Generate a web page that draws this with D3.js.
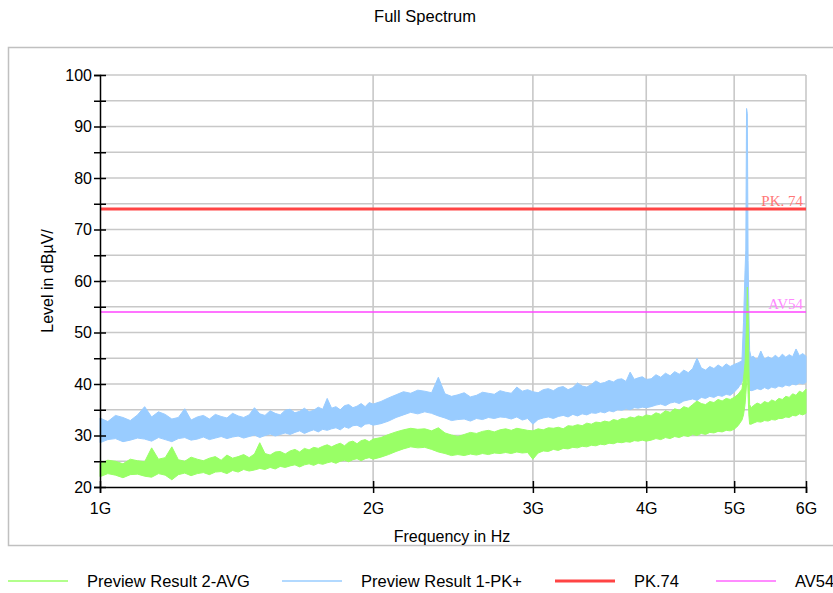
<!DOCTYPE html>
<html>
<head>
<meta charset="utf-8">
<script src="https://cdn.jsdelivr.net/npm/d3@7.9.0/dist/d3.min.js"></script>
<style>
  body { margin: 0; background: #fff; }
  svg text { font-family: "Liberation Sans", Arial, sans-serif; }
</style>
</head>
<body>
<svg id="chart" width="833" height="593"></svg>
<script>
// sweep frequencies in GHz
const freqs = [
  1.00,1.02,1.04,1.06,1.08,1.10,1.12,1.14,1.16,1.18,1.20,1.22,1.24,1.26,1.28,1.30,1.32,1.34,1.36,1.38,
  1.40,1.42,1.44,1.46,1.48,1.50,1.52,1.54,1.56,1.58,1.60,1.62,1.64,1.66,1.68,1.70,1.72,1.74,1.76,1.78,
  1.80,1.82,1.84,1.86,1.88,1.90,1.92,1.94,1.96,1.98,2.00,
  2.04,2.08,2.12,2.16,2.20,2.24,2.28,2.32,2.36,2.40,2.44,2.48,2.52,2.56,2.60,2.64,2.68,2.72,2.76,2.80,
  2.84,2.88,2.92,2.96,3.00,3.04,3.08,3.12,3.16,3.20,3.24,3.28,3.32,3.36,3.40,3.44,3.48,3.52,3.56,3.60,
  3.64,3.68,3.72,3.76,3.80,3.84,3.88,3.92,3.96,4.00,
  4.05,4.10,4.15,4.20,4.25,4.30,4.35,4.40,4.45,4.50,4.55,4.60,4.65,4.70,4.75,4.80,4.85,4.90,4.95,5.00,5.05,5.10,
  5.12,5.14,5.15,5.16,5.17,5.18,5.19,5.20,5.22,
  5.25,5.30,5.35,5.40,5.45,5.50,5.55,5.60,5.65,5.70,5.75,5.80,5.85,5.90,5.95,6.00
];

// Preview Result 1-PK+ : top / bottom of the trace band (dBµV)
const pkHigh = [
  33.4,32.7,33.9,33.5,32.9,34.0,35.6,33.6,34.6,34.1,33.2,33.5,35.2,33.0,33.6,33.9,33.2,34.1,33.7,33.4,
  34.3,33.8,33.5,34.0,35.4,34.2,33.9,34.8,34.3,34.0,34.9,35.1,34.4,34.7,35.3,34.6,34.9,35.5,35.1,37.2,
  35.3,35.6,35.0,35.8,36.0,35.4,35.7,36.2,35.6,36.4,36.1,
  36.6,37.3,37.9,38.5,38.2,38.8,38.6,38.3,41.3,38.1,37.6,37.9,38.3,37.5,37.8,38.4,38.2,38.0,38.7,38.4,
  38.2,39.4,38.6,38.9,38.5,38.3,38.9,39.1,38.7,39.3,39.5,38.9,39.3,40.2,39.6,39.4,39.9,40.6,40.1,40.3,
  40.7,40.4,40.9,41.0,40.5,42.3,40.9,41.2,41.4,40.9,
  41.0,41.8,41.3,42.1,41.6,42.4,41.9,42.7,42.2,43.0,45.0,43.1,42.7,43.4,43.0,43.7,43.2,43.9,43.4,43.8,44.1,44.5,
  52.0,62.0,66.0,93.5,92.5,64.0,55.0,46.5,45.2,
  45.4,44.6,46.4,44.8,45.3,44.9,45.6,45.0,45.8,45.2,45.7,45.3,46.8,45.5,45.9,45.4
];
const pkLow = [
  28.6,29.2,29.4,28.8,29.1,29.5,29.3,28.9,29.6,29.2,28.8,29.4,29.6,29.1,29.3,29.7,29.2,29.5,29.8,29.4,
  29.7,29.9,29.5,29.8,30.1,29.6,30.0,30.3,29.9,30.2,30.5,30.2,30.6,30.9,30.4,30.8,31.1,30.7,31.2,31.0,
  31.3,31.5,31.1,31.7,31.4,31.9,32.0,31.6,32.2,32.3,32.0,
  32.3,32.8,33.5,34.0,34.5,34.2,34.6,34.3,33.8,33.4,32.9,33.1,33.2,32.8,33.3,33.1,33.5,33.3,33.6,33.5,
  33.2,33.6,33.0,33.3,32.2,33.1,33.4,33.6,33.3,33.7,33.9,33.6,34.1,33.8,34.2,34.0,34.4,34.3,34.6,34.4,
  34.8,34.6,35.0,34.9,35.2,35.0,35.4,35.3,35.5,35.4,
  35.6,35.9,36.1,35.8,36.3,36.5,36.2,36.7,36.9,37.1,36.8,37.4,37.2,37.6,37.4,37.8,37.6,38.0,37.8,38.4,39.2,40.4,
  41.0,42.0,44.0,45.0,44.0,42.0,40.0,38.8,38.7,
  38.8,39.1,38.9,39.3,39.0,39.4,39.2,39.6,39.4,39.8,39.6,40.0,39.8,40.2,40.0,40.3
];

// Preview Result 2-AVG : top / bottom of the trace band (dBµV)
const avgHigh = [
  24.6,25.2,25.0,24.5,25.4,25.1,24.9,27.6,25.4,25.7,27.8,25.3,25.0,25.8,25.4,25.1,25.6,25.9,25.2,26.2,
  25.6,25.9,26.3,25.7,26.4,28.6,26.5,26.2,26.8,26.9,26.4,27.0,27.3,26.8,27.5,27.2,27.7,27.5,27.9,28.2,
  27.8,28.2,28.5,28.0,28.7,28.9,28.4,29.0,29.2,28.8,29.3,
  29.6,30.2,30.7,31.1,31.4,31.2,31.3,30.9,31.5,30.5,30.1,29.8,30.2,30.6,30.4,30.8,31.0,30.7,31.1,31.3,
  31.0,31.4,31.2,31.0,30.9,31.3,31.1,31.5,31.4,31.6,31.3,31.9,31.8,32.1,31.9,32.4,32.2,32.6,32.5,32.8,
  32.6,33.1,32.9,33.3,33.2,33.6,33.4,33.8,33.6,34.0,
  33.8,34.4,34.1,34.8,34.5,35.2,34.9,35.6,35.3,36.0,36.7,36.2,36.0,36.6,36.4,37.0,36.7,37.2,37.0,37.4,38.0,39.0,
  41.0,44.0,48.0,52.0,58.8,54.0,44.0,36.0,35.4,
  35.8,36.3,36.0,36.6,36.3,36.9,36.6,37.2,37.0,37.6,37.4,38.1,37.8,38.6,38.3,39.0
];
const avgLow = [
  22.0,22.6,22.3,21.8,22.4,22.5,22.1,21.9,22.6,22.3,21.4,22.4,22.7,22.2,22.6,22.8,22.4,22.9,23.0,22.6,
  23.2,22.9,23.4,23.1,23.3,23.6,23.4,23.8,23.5,24.0,23.8,24.1,24.3,23.9,24.3,24.5,24.2,24.6,24.4,24.7,
  24.9,24.6,25.0,25.2,24.9,25.3,25.5,25.1,25.5,25.7,25.4,
  25.8,26.3,26.9,27.4,27.8,27.6,27.7,27.3,26.8,26.5,26.1,26.3,26.1,26.4,26.2,26.5,26.3,26.6,26.5,26.7,
  26.5,26.8,26.6,26.7,25.4,26.6,27.0,26.9,27.3,27.1,27.5,27.4,27.7,27.6,27.9,27.8,28.1,28.0,28.3,28.2,
  28.5,28.4,28.7,28.6,28.8,28.7,29.0,28.9,29.1,28.9,
  29.1,29.4,29.2,29.6,29.4,29.8,29.6,30.0,29.8,30.2,30.0,30.4,30.2,30.6,30.5,30.8,30.7,31.0,30.9,31.2,31.9,33.0,
  34.0,36.0,38.0,40.0,42.0,38.0,34.0,32.2,32.2,
  32.4,32.7,32.6,32.9,32.8,33.1,33.0,33.3,33.3,33.6,33.5,33.9,33.8,34.2,34.0,34.3
];

// limit lines
const limits = [
  { name: 'PK.74', label: 'PK. 74', value: 74, color: '#ff4444', labelColor: '#ff7777', width: 3 },
  { name: 'AV54', label: 'AV54', value: 54, color: '#ff44ff', labelColor: '#ff88ff', width: 1.5 }
];

// axis ticks
const xTicks = [1, 2, 3, 4, 5, 6];
const yTicks = [20, 25, 30, 35, 40, 45, 50, 55, 60, 65, 70, 75, 80, 85, 90, 95, 100];

const svg = d3.select('#chart');

const x = d3.scaleLog().domain([1, 6]).range([100, 806]);
const y = d3.scaleLinear().domain([20, 100]).range([487, 75]);

// panel frame
svg.append('rect')
  .attr('x', 8.5).attr('y', 47.5).attr('width', 840).attr('height', 498)
  .attr('fill', '#fff').attr('stroke', '#c0c0c0').attr('stroke-width', 1.5);

// title
svg.append('text')
  .attr('x', 425).attr('y', 22)
  .attr('text-anchor', 'middle')
  .attr('font-size', 16.5)
  .text('Full Spectrum');

// grid
const grid = svg.append('g').attr('stroke', '#c8c8c8').attr('stroke-width', 1.6);
yTicks.filter(v => v > 20).forEach(v => {
  grid.append('line')
    .attr('x1', x(1)).attr('x2', x(6))
    .attr('y1', y(v)).attr('y2', y(v));
});
xTicks.filter(v => v > 1).forEach(v => {
  grid.append('line')
    .attr('x1', x(v)).attr('x2', x(v))
    .attr('y1', y(20)).attr('y2', y(100));
});

// traces (band between low and high of each sweep)
const band = (hi, lo) => d3.area()
  .x((d, i) => x(freqs[i]))
  .y0((d, i) => y(lo[i]))
  .y1((d, i) => y(hi[i]));

svg.append('path')
  .datum(pkHigh)
  .attr('d', band(pkHigh, pkLow))
  .attr('fill', '#99ccff')
  .attr('stroke', '#99ccff')
  .attr('stroke-width', 1);

svg.append('path')
  .datum(avgHigh)
  .attr('d', band(avgHigh, avgLow))
  .attr('fill', '#99ff66')
  .attr('stroke', '#99ff66')
  .attr('stroke-width', 1);

// limit lines + labels
limits.forEach(l => {
  svg.append('line')
    .attr('x1', x(1)).attr('x2', x(6))
    .attr('y1', y(l.value)).attr('y2', y(l.value))
    .attr('stroke', l.color).attr('stroke-width', l.width);
  svg.append('text')
    .attr('x', x(6) - 3).attr('y', y(l.value) - 3)
    .attr('text-anchor', 'end')
    .attr('fill', l.labelColor)
    .attr('font-size', 15)
    .style('font-family', '"Liberation Serif", "DejaVu Serif", serif')
    .text(l.label);
});

// y axis
const yAxis = svg.append('g')
  .attr('transform', `translate(${x(1)},0)`)
  .call(d3.axisLeft(y).tickValues(yTicks).tickSize(6).tickPadding(2)
    .tickFormat(v => v % 10 === 0 ? v : ''));
yAxis.select('.domain').attr('stroke', '#000').attr('stroke-width', 1.5);
yAxis.selectAll('.tick line').attr('x1', 6).attr('stroke-width', 1.5);
yAxis.selectAll('text').attr('font-size', 16).attr('fill', '#000')
  .style('font-family', '"Liberation Sans", Arial, sans-serif');

// x axis
const xAxis = svg.append('g')
  .attr('transform', `translate(0,${y(20)})`)
  .call(d3.axisBottom(x).tickValues(xTicks).tickSize(6).tickPadding(10)
    .tickFormat(v => v + 'G'));
xAxis.select('.domain').attr('stroke', '#000').attr('stroke-width', 1.5);
xAxis.selectAll('.tick line').attr('y1', -6).attr('stroke-width', 1.5);
xAxis.selectAll('text').attr('font-size', 16).attr('fill', '#000')
  .style('font-family', '"Liberation Sans", Arial, sans-serif');

// axis titles
svg.append('text')
  .attr('x', 452).attr('y', 542)
  .attr('text-anchor', 'middle')
  .attr('font-size', 16)
  .text('Frequency in Hz');

svg.append('text')
  .attr('transform', 'translate(53,281) rotate(-90)')
  .attr('text-anchor', 'middle')
  .attr('font-size', 16)
  .text('Level in dBµV/');

// legend
const legendItems = [
  { name: 'Preview Result 2-AVG', color: '#99ff66', width: 1.5, x: 8 },
  { name: 'Preview Result 1-PK+', color: '#99ccff', width: 1.5, x: 282 },
  { name: 'PK.74', color: '#ff4444', width: 3, x: 555 },
  { name: 'AV54', color: '#ff66ff', width: 1.5, x: 716 }
];
const legend = svg.append('g');
legendItems.forEach(d => {
  legend.append('line')
    .attr('x1', d.x).attr('x2', d.x + 60)
    .attr('y1', 581).attr('y2', 581)
    .attr('stroke', d.color).attr('stroke-width', d.width);
  legend.append('text')
    .attr('x', d.x + 79).attr('y', 587)
    .attr('font-size', 16.5)
    .text(d.name);
});
</script>
</body>
</html>
